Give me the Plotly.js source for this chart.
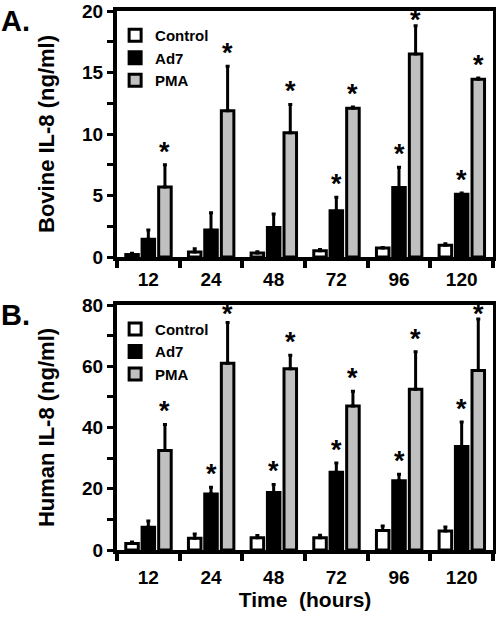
<!DOCTYPE html>
<html>
<head>
<meta charset="utf-8">
<script src="https://cdn.plot.ly/plotly-3.0.1.min.js"></script>
<style>html,body{margin:0;padding:0;background:#fff;}#chart{width:496px;height:618px;}</style>
</head>
<body>
<div id="chart"></div>
<script>
// ---- data ----
const categories = ['12', '24', '48', '72', '96', '120'];
const seriesNames = ['Control', 'Ad7', 'PMA'];

const bovineControl    = [0.2, 0.4, 0.33, 0.5, 0.73, 0.95];
const bovineControlErr = [0.1, 0.28, 0.1, 0.1, 0.05, 0.13];
const bovineAd7        = [1.45, 2.2, 2.4, 3.75, 5.65, 5.1];
const bovineAd7Err     = [0.75, 1.4, 1.1, 1.1, 1.65, 0.1];
const bovinePMA        = [5.7, 11.9, 10.1, 12.1, 16.5, 14.45];
const bovinePMAErr     = [1.8, 3.6, 2.3, 0.1, 2.3, 0.1];
const bovineAd7Sig     = [0, 0, 0, 1, 1, 1];
const bovinePMASig     = [1, 1, 1, 1, 1, 1];

const humanControl    = [2.1, 3.8, 4.0, 4.0, 6.4, 6.2];
const humanControlErr = [0.5, 1.4, 0.7, 0.8, 1.4, 1.3];
const humanAd7        = [7.4, 18.3, 18.8, 25.4, 22.6, 33.8];
const humanAd7Err     = [2.1, 2.2, 2.6, 3.0, 2.1, 8.0];
const humanPMA        = [32.5, 61.0, 59.2, 47.0, 52.5, 58.6];
const humanPMAErr     = [8.5, 13.3, 4.4, 4.8, 12.2, 16.8];
const humanAd7Sig     = [0, 1, 1, 1, 1, 1];
const humanPMASig     = [1, 1, 1, 1, 1, 1];

// ---- style ----
const FONT = 'Liberation Sans, Arial, sans-serif';
const colors = ['#ffffff', '#000000', '#c0c0c0'];
const barWidth = 0.2;
const centers = [-0.26, 0.0, 0.265];
const xIdx = categories.map((_, i) => i);

const W = 496, H = 618;
const M = {l: 117, r: 3, t: 11, b: 68};
const topDomain = [0.5436, 1], botDomain = [0, 0.4545];
const topRange = [0, 20], botRange = [0, 80];

function barTrace(name, k, vals, errs, xa, ya, legend) {
  return {
    type: 'bar', name: name, x: xIdx, y: vals,
    xaxis: xa, yaxis: ya, legend: legend, showlegend: true,
    width: barWidth, offset: centers[k] - barWidth / 2,
    marker: {color: colors[k], line: {color: '#000', width: 3}},
    error_y: {type: 'data', symmetric: false, array: errs, arrayminus: vals.map(() => 0),
              color: '#000', thickness: 3, width: 2},
    hoverinfo: 'skip'
  };
}

const traces = [
  barTrace(seriesNames[0], 0, bovineControl, bovineControlErr, 'x', 'y', 'legend'),
  barTrace(seriesNames[1], 1, bovineAd7, bovineAd7Err, 'x', 'y', 'legend'),
  barTrace(seriesNames[2], 2, bovinePMA, bovinePMAErr, 'x', 'y', 'legend'),
  barTrace(seriesNames[0], 0, humanControl, humanControlErr, 'x2', 'y2', 'legend2'),
  barTrace(seriesNames[1], 1, humanAd7, humanAd7Err, 'x2', 'y2', 'legend2'),
  barTrace(seriesNames[2], 2, humanPMA, humanPMAErr, 'x2', 'y2', 'legend2')
];

const annotations = [];
function stars(k, vals, errs, sig, xref, yref, domain, range) {
  const plotH = (H - M.t - M.b) * (domain[1] - domain[0]);
  vals.forEach((v, i) => {
    if (!sig[i]) return;
    const top = v + errs[i];
    const fromTop = (1 - (top - range[0]) / (range[1] - range[0])) * plotH;
    const shift = Math.min(13, fromTop - 9);
    annotations.push({
      x: i + centers[k], y: top, xref: xref, yref: yref,
      text: '*', showarrow: false, yanchor: 'middle', xanchor: 'center', yshift: shift,
      font: {family: FONT, size: 27, color: '#000', weight: 'bold'}
    });
  });
}
stars(1, bovineAd7, bovineAd7Err, bovineAd7Sig, 'x', 'y', topDomain, topRange);
stars(2, bovinePMA, bovinePMAErr, bovinePMASig, 'x', 'y', topDomain, topRange);
stars(1, humanAd7, humanAd7Err, humanAd7Sig, 'x2', 'y2', botDomain, botRange);
stars(2, humanPMA, humanPMAErr, humanPMASig, 'x2', 'y2', botDomain, botRange);

annotations.push({xref: 'paper', yref: 'paper', x: -0.313, y: 1.014, xanchor: 'left', yanchor: 'top',
  text: 'A.', showarrow: false, font: {family: FONT, size: 29, color: '#000', weight: 'bold'}});
annotations.push({xref: 'paper', yref: 'paper', x: -0.313, y: 0.47, xanchor: 'left', yanchor: 'top',
  text: 'B.', showarrow: false, font: {family: FONT, size: 29, color: '#000', weight: 'bold'}});

const tickFont = {family: FONT, size: 19, color: '#000', weight: 'bold'};

function xAxis(anchor, withTitle, labelShift) {
  const ax = {
    anchor: anchor, range: [-0.5, 5.5], domain: [0, 1],
    tickmode: 'array', tickvals: xIdx, ticktext: categories,
    ticks: 'outside', ticklen: 7, tickcolor: 'rgba(0,0,0,0)',
    ticklabelstandoff: labelShift,
    tickfont: tickFont,
    showline: true, linewidth: 4, linecolor: '#000', mirror: true,
    showgrid: false, zeroline: false, fixedrange: true,
    minor: {tickmode: 'linear', tick0: -0.5, dtick: 1, ticks: 'outside', ticklen: 7, tickwidth: 4, tickcolor: '#000', showgrid: false}
  };
  if (withTitle) ax.title = {text: 'Time  (hours)', font: {family: FONT, size: 21, color: '#000', weight: 'bold'}, standoff: 6};
  return ax;
}
function yAxis(anchor, domain, range, dtick, title) {
  return {
    anchor: anchor, domain: domain, range: range,
    tickmode: 'linear', tick0: 0, dtick: dtick,
    ticks: 'outside', ticklen: 6, tickwidth: 3, tickcolor: '#000',
    tickfont: tickFont,
    showline: true, linewidth: 4, linecolor: '#000', mirror: true,
    showgrid: false, zeroline: false, fixedrange: true,
    minor: {tickmode: 'linear', tick0: 0, dtick: dtick / 2, ticks: 'outside', ticklen: 6, tickwidth: 3, tickcolor: '#000', showgrid: false},
    title: {text: title, font: {family: FONT, size: 22, color: '#000', weight: 'bold'}, standoff: 22}
  };
}

const legendBase = {
  xanchor: 'left', yanchor: 'top', bgcolor: 'rgba(0,0,0,0)', borderwidth: 0,
  font: {family: FONT, size: 15, color: '#000', weight: 'bold'},
  itemwidth: 30, tracegroupgap: 0, traceorder: 'normal'
};

const layout = {
  width: W, height: H,
  margin: M,
  paper_bgcolor: '#fff', plot_bgcolor: '#fff',
  font: {family: FONT, color: '#000'},
  barmode: 'overlay',
  xaxis: xAxis('y', false, -5),
  yaxis: yAxis('x', topDomain, topRange, 5, 'Bovine IL-8 (ng/ml)'),
  xaxis2: xAxis('y2', true, 0),
  yaxis2: yAxis('x2', botDomain, botRange, 20, 'Human IL-8 (ng/ml)'),
  legend: Object.assign({x: -0.005, y: 0.985}, legendBase),
  legend2: Object.assign({x: -0.005, y: 0.44}, legendBase),
  annotations: annotations
};

Plotly.newPlot('chart', traces, layout, {staticPlot: true, displayModeBar: false});
</script>
</body>
</html>
